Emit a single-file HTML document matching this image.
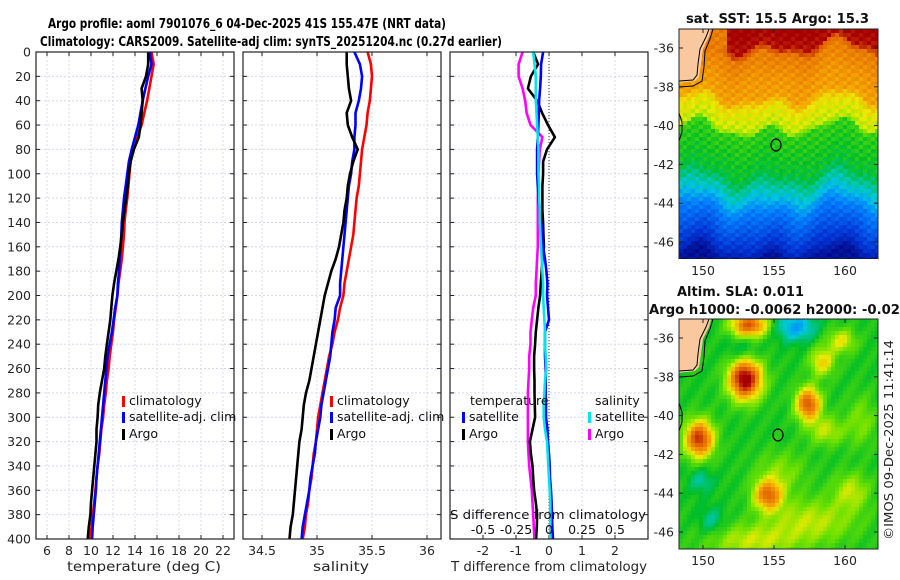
<!DOCTYPE html>
<html><head><meta charset="utf-8"><style>
html,body{margin:0;padding:0;background:#fff;width:900px;height:580px;overflow:hidden}
svg{display:block;font-family:"DejaVu Sans","Liberation Sans",sans-serif}
</style></head><body>
<svg id="fig" width="900" height="580" viewBox="0 0 900 580" xmlns="http://www.w3.org/2000/svg">
<text x="48" y="28" font-size="13.5" font-weight="bold" textLength="398" lengthAdjust="spacingAndGlyphs">Argo profile: aoml 7901076_6 04-Dec-2025 41S 155.47E (NRT data)</text>
<text x="40" y="46" font-size="13.5" font-weight="bold" textLength="462" lengthAdjust="spacingAndGlyphs">Climatology: CARS2009. Satellite-adj clim: synTS_20251204.nc (0.27d earlier)</text>
<g id="plots"></g>
<g id="maps"></g>
</svg>
<script>
const depths=[0,10,20,30,40,50,60,70,80,90,100,110,120,130,140,150,160,170,180,190,200,210,220,230,240,250,260,270,280,290,300,310,320,330,340,350,360,370,380,390,400];
const tempClim=[15.5,15.7,15.5,15.3,15.1,14.85,14.6,14.2,13.8,13.6,13.5,13.4,13.3,13.15,13.05,13.0,12.9,12.8,12.65,12.5,12.4,12.25,12.1,12.0,11.85,11.7,11.6,11.45,11.35,11.2,11.1,10.95,10.85,10.75,10.6,10.5,10.4,10.3,10.15,10.05,9.9];
const tempSat=[15.35,15.5,15.2,14.95,14.7,14.5,14.3,14.0,13.7,13.45,13.3,13.15,13.0,12.9,12.8,12.75,12.7,12.6,12.55,12.45,12.4,12.2,12.05,11.9,11.7,11.5,11.4,11.3,11.2,11.1,11.0,10.9,10.8,10.7,10.6,10.5,10.45,10.35,10.25,10.15,10.1];
const tempArgo=[15.2,15.2,15.0,14.6,14.7,14.6,14.5,14.35,13.9,13.6,13.45,13.35,13.2,13.05,12.9,12.8,12.65,12.5,12.3,12.1,11.95,11.85,11.75,11.6,11.45,11.3,11.2,11.0,10.8,10.65,10.6,10.5,10.5,10.4,10.3,10.2,10.1,10.0,9.95,9.8,9.7];
const salClim=[35.46,35.49,35.5,35.49,35.48,35.46,35.45,35.43,35.41,35.40,35.39,35.38,35.36,35.35,35.34,35.33,35.31,35.29,35.27,35.25,35.24,35.21,35.19,35.16,35.14,35.11,35.09,35.07,35.05,35.03,35.01,35.0,34.99,34.97,34.96,34.95,34.93,34.92,34.90,34.89,34.87];
const salSat=[35.34,35.39,35.41,35.40,35.38,35.35,35.35,35.34,35.34,35.32,35.31,35.29,35.28,35.27,35.26,35.25,35.24,35.23,35.22,35.21,35.21,35.17,35.16,35.14,35.13,35.12,35.10,35.08,35.06,35.04,35.03,35.01,34.99,34.98,34.96,34.94,34.93,34.91,34.89,34.87,34.86];
const salArgo=[35.27,35.27,35.28,35.29,35.31,35.27,35.28,35.32,35.37,35.33,35.30,35.28,35.27,35.25,35.24,35.22,35.20,35.17,35.13,35.10,35.07,35.05,35.03,35.01,34.99,34.97,34.95,34.93,34.90,34.88,34.87,34.86,34.84,34.83,34.82,34.81,34.80,34.79,34.78,34.76,34.75];
const tDiffArgo=[-0.48,-0.33,-0.55,-0.64,-0.36,-0.21,-0.03,0.18,-0.06,-0.18,-0.18,-0.2,-0.2,-0.2,-0.18,-0.17,-0.15,-0.2,-0.22,-0.25,-0.27,-0.32,-0.36,-0.4,-0.42,-0.45,-0.45,-0.44,-0.44,-0.43,-0.42,-0.5,-0.58,-0.55,-0.5,-0.48,-0.45,-0.4,-0.36,-0.37,-0.39];
const tDiffSat=[-0.18,-0.24,-0.25,-0.27,-0.3,-0.31,-0.32,-0.34,-0.36,-0.36,-0.36,-0.34,-0.32,-0.28,-0.24,-0.2,-0.18,-0.12,-0.08,-0.05,-0.06,-0.03,0.0,-0.12,-0.12,-0.12,-0.1,-0.1,-0.1,-0.09,-0.09,-0.05,-0.03,0.0,0.02,0.03,0.06,0.08,0.09,0.1,0.12];
const sDiffSat=[-0.12,-0.11,-0.1,-0.1,-0.1,-0.095,-0.09,-0.085,-0.08,-0.08,-0.08,-0.075,-0.075,-0.07,-0.07,-0.065,-0.06,-0.055,-0.05,-0.045,-0.045,-0.04,-0.035,-0.03,-0.03,-0.025,-0.02,-0.03,-0.035,-0.04,-0.04,-0.03,-0.015,-0.01,-0.005,0.0,0.005,0.01,0.01,0.01,0.01];
const sDiffArgo=[-0.2,-0.23,-0.23,-0.2,-0.18,-0.17,-0.14,-0.05,-0.07,-0.075,-0.08,-0.08,-0.085,-0.085,-0.085,-0.085,-0.085,-0.09,-0.095,-0.1,-0.1,-0.12,-0.13,-0.14,-0.14,-0.15,-0.15,-0.155,-0.16,-0.16,-0.16,-0.16,-0.16,-0.155,-0.15,-0.14,-0.13,-0.125,-0.12,-0.115,-0.11];
const depthTicks=[0,20,40,60,80,100,120,140,160,180,200,220,240,260,280,300,320,340,360,380,400];
const tempTicks=[6,8,10,12,14,16,18,20,22];
const salTicks=[34.5,35,35.5,36];
const tDiffTicks=[-2,-1,0,1,2];
const sDiffTicks=[-0.5,-0.25,0,0.25,0.5];
const latTicks=[-36,-38,-40,-42,-44,-46];
const lonTicks=[150,155,160];

const NS='http://www.w3.org/2000/svg';
function mk(tag,attrs,parent,txt){const e=document.createElementNS(NS,tag);for(const k in attrs)e.setAttribute(k,attrs[k]);if(txt!==undefined)e.textContent=txt;parent.appendChild(e);return e;}
const plots=document.getElementById('plots');
const Y0=52,Y1=539;
const yScale=d=>Y0+(d-0)/(400)*(Y1-Y0);
function lin(d0,d1,r0,r1){return v=>r0+(v-d0)/(d1-d0)*(r1-r0);}
const GRID='#d6d8f0';

function panel(name,x0,x1,xs,xticks,showY){
  const g=mk('g',{},plots);
  
  
  depthTicks.forEach(d=>{const y=yScale(d);
    const l=mk('line',{x1:x0,x2:x1,y1:y,y2:y,stroke:GRID,'stroke-width':1,'stroke-dasharray':'2,2'},g);
    
    mk('line',{x1:x0,x2:x0+4,y1:y,y2:y,stroke:'#222'},g);
    mk('line',{x1:x1-4,x2:x1,y1:y,y2:y,stroke:'#222'},g);
    if(showY){const t=mk('text',{x:31,y:y+4.5,'font-size':12.5,'text-anchor':'end',fill:'#262626'},g,String(d));
      }
  });
  xticks.forEach(v=>{const x=xs(v);
    const l=mk('line',{x1:x,x2:x,y1:Y0,y2:Y1,stroke:GRID,'stroke-width':1,'stroke-dasharray':'2,2'},g);
    
    mk('line',{x1:x,x2:x,y1:Y1-4,y2:Y1,stroke:'#222'},g);
    mk('line',{x1:x,x2:x,y1:Y0,y2:Y0+4,stroke:'#222'},g);
    const t=mk('text',{x:x,y:555,'font-size':12.5,'text-anchor':'middle',fill:'#262626'},g,String(v));
    
  });
  return g;
}
function series(g,name,vals,xs,color){
  const pts=vals.map((v,i)=>xs(v).toFixed(1)+','+yScale(depths[i]).toFixed(1)).join(' ');
  const p=mk('polyline',{points:pts,fill:'none',stroke:color,'stroke-width':2.6,'stroke-linejoin':'round'},g);
  
  
}
function frame(g,x0,x1){const r=mk('rect',{x:x0,y:Y0,width:x1-x0,height:Y1-Y0,fill:'none',stroke:'#222','stroke-width':1.2},g);
  }
function legendEntry(g,x,y,color,label){
  mk('rect',{x:x,y:y-9,width:3,height:11,fill:color},g);
  const t=mk('text',{x:x+7,y:y,'font-size':12.5,fill:'#111'},g,label);
  
}
function axisTitle(g,x,label,len){const t=mk('text',{x:x,y:571,'font-size':13,'text-anchor':'middle',fill:'#262626',textLength:len,lengthAdjust:'spacingAndGlyphs'},g,label);
  }

const xT=lin(5,23,36,234);
const g1=panel('temperature',36,234,xT,tempTicks,true);
series(g1,'temp-climatology-line',tempClim,xT,'#ff0000');
series(g1,'temp-satellite-line',tempSat,xT,'#0000ff');
series(g1,'temp-argo-line',tempArgo,xT,'#000000');
frame(g1,36,234);
legendEntry(g1,122,405,'#ff0000','climatology');
legendEntry(g1,122,421,'#0000ff','satellite-adj. clim');
legendEntry(g1,122,438,'#000000','Argo');
axisTitle(g1,144,'temperature (deg C)',154);

const xS=lin(34.5,36,262,427);
const g2=panel('salinity',243,441,xS,salTicks,false);
series(g2,'sal-climatology-line',salClim,xS,'#ff0000');
series(g2,'sal-satellite-line',salSat,xS,'#0000ff');
series(g2,'sal-argo-line',salArgo,xS,'#000000');
frame(g2,243,441);
legendEntry(g2,330,405,'#ff0000','climatology');
legendEntry(g2,330,421,'#0000ff','satellite-adj. clim');
legendEntry(g2,330,438,'#000000','Argo');
axisTitle(g2,341,'salinity',56);

const xD=lin(-3,3,450,648);
const xSD=lin(-0.75,0.75,450,648);
const g3=panel('difference',450,648,xD,tDiffTicks,false);
const z=mk('line',{x1:xD(0),x2:xD(0),y1:Y0,y2:Y1,stroke:'#333','stroke-width':1,'stroke-dasharray':'1,2'},g3);

series(g3,'sdiff-argo-line',sDiffArgo,xSD,'#ff00ff');
series(g3,'tdiff-argo-line',tDiffArgo,xD,'#000000');
series(g3,'tdiff-satellite-line',tDiffSat,xD,'#0000ff');
series(g3,'sdiff-satellite-line',sDiffSat,xSD,'#00e5ee');
frame(g3,450,648);
let tt=mk('text',{x:470,y:405,'font-size':12.5,fill:'#111'},g3,'temperature');

tt=mk('text',{x:595,y:405,'font-size':12.5,fill:'#111'},g3,'salinity');

legendEntry(g3,462,421,'#0000ff','satellite');
legendEntry(g3,462,438,'#000000','Argo');
legendEntry(g3,588,421,'#00e5ee','satellite');
legendEntry(g3,588,438,'#ff00ff','Argo');
tt=mk('text',{x:450,y:519,'font-size':12.5,fill:'#111',textLength:196,lengthAdjust:'spacingAndGlyphs'},g3,'S difference from climatology');

sDiffTicks.forEach(v=>{const t=mk('text',{x:xSD(v),y:534,'font-size':12.5,'text-anchor':'middle',fill:'#111'},g3,String(v));
  });
axisTitle(g3,549,'T difference from climatology',196);

// Maps
const maps=document.getElementById('maps');
const cmap=[[0,[0,0,120]],[0.15,[0,50,210]],[0.28,[0,130,255]],[0.37,[0,200,220]],[0.46,[0,190,40]],[0.55,[110,225,0]],[0.63,[235,235,0]],[0.72,[245,160,0]],[0.82,[225,100,0]],[0.92,[170,0,0]],[1,[150,0,0]]];
function col(v){v=Math.max(0,Math.min(1,v));
  for(let i=0;i<cmap.length-1;i++){const a=cmap[i],b=cmap[i+1];if(v<=b[0]){const t=(v-a[0])/(b[0]-a[0]);
    return 'rgb('+a[1].map((c,k)=>Math.round(c+t*(b[1][k]-c))).join(',')+')';}}
  return 'rgb(150,0,0)';}
function sstField(x,y){
  const w=6*Math.sin(x*0.09)+5*Math.sin(x*0.041+1.3)+3*Math.sin(x*0.17+y*0.05);
  const yy=y+w;
  const stops=[[0,0.93],[14,0.9],[22,0.78],[45,0.74],[65,0.72],[75,0.64],[95,0.6],[100,0.5],[140,0.46],[150,0.42],[165,0.36],[180,0.27],[200,0.2],[215,0.14],[228,0.05]];
  let v=stops[stops.length-1][1];
  if(yy<stops[0][0])v=stops[0][1];
  for(let i=0;i<stops.length-1;i++){if(yy>=stops[i][0]&&yy<stops[i+1][0]){const t=(yy-stops[i][0])/(stops[i+1][0]-stops[i][0]);v=stops[i][1]+t*(stops[i+1][1]-stops[i][1]);break;}}
  if(y<20&&x<45)v=Math.min(v,0.78);
  return v+0.025*Math.sin(x*0.5+y*0.7);
}
const blobs=[[64,58,0.48,16,20],[127,83,0.36,12,16],[18,118,0.4,14,18],[87,174,0.32,14,15],[68,4,0.35,18,12],[114,6,-0.16,20,14],[141,41,0.18,12,14],[61,31,-0.07,16,14],[145,110,0.12,18,14],[20,160,-0.08,12,12],[30,200,-0.08,12,14],[130,200,0.12,45,22],[70,220,0.12,45,16],[170,170,0.12,18,18],[160,20,0.15,14,12],[100,150,0.08,25,20],[180,100,0.08,15,25]];
function slaField(x,y){let v=0.48;blobs.forEach(b=>{const dx=(x-b[0])/b[3],dy=(y-b[1])/b[4];v+=b[2]*Math.exp(-(dx*dx+dy*dy));});return v+0.015*Math.sin(x*0.3+y*0.2);}
function drawMap(name,top,field,mx,my){
  const L=679,R=878,B=top+230;
  const g=mk('g',{},maps);
  
  
  const cs=4;
  for(let y=0;y<230;y+=cs)for(let x=0;x<199;x+=cs){
    mk('rect',{x:L+x,y:top+y,width:Math.min(cs,199-x)+0.3,height:Math.min(cs,230-y)+0.3,fill:col(field(x,y))},g);}
  const land=mk('path',{d:`M${L},${top} L${L+32},${top} L${L+30},${top+8} L${L+24},${top+20} L${L+22},${top+35} L${L+20},${top+48} L${L+16},${top+52} L${L},${top+54} Z`,fill:'#f9c89e'},g);
  
  mk('path',{d:`M${L+30},${top} L${L+27},${top+8} L${L+21},${top+20} L${L+19},${top+35} L${L+18},${top+46} L${L+14},${top+51} L${L},${top+52}`,fill:'none',stroke:'#000','stroke-width':1},g);
  mk('path',{d:`M${L+34},${top} L${L+31},${top+10} L${L+26},${top+22} L${L+25},${top+38} L${L+23},${top+52} L${L+14},${top+57} L${L},${top+58}`,fill:'none',stroke:'#000','stroke-width':1},g);
  mk('path',{d:`M${L},${top+84} L${L+3},${top+93} L${L+3},${top+103} L${L},${top+112}`,fill:'none',stroke:'#000','stroke-width':1},g);
  const c=mk('ellipse',{cx:mx,cy:my,rx:5,ry:6,fill:'none',stroke:'#000','stroke-width':1.2},g);
  
  mk('rect',{x:L,y:top,width:199,height:230,fill:'none',stroke:'#222','stroke-width':1},g);
  const latY=lat=>top+19+(-36-lat)/10*194;
  latTicks.forEach(lat=>{const y=latY(lat);mk('line',{x1:L,x2:L+4,y1:y,y2:y,stroke:'#222'},g);mk('line',{x1:R-4,x2:R,y1:y,y2:y,stroke:'#222'},g);
    const t=mk('text',{x:674,y:y+4.5,'font-size':12.5,'text-anchor':'end',fill:'#262626'},g,String(lat));
    });
  const lonX=lon=>703+(lon-150)*14.2;
  lonTicks.forEach(lon=>{const x=lonX(lon);mk('line',{x1:x,x2:x,y1:B-4,y2:B,stroke:'#222'},g);mk('line',{x1:x,x2:x,y1:top,y2:top+4,stroke:'#222'},g);
    const t=mk('text',{x:x,y:B+16,'font-size':12.5,'text-anchor':'middle',fill:'#262626'},g,String(lon));
    });
  return g;
}
drawMap('sst-map',29,sstField,776,145);
drawMap('sla-map',319,slaField,778,435);
mk('rect',{x:679,y:259,width:199,height:3,fill:'#fff'},maps);
let mt=mk('text',{x:686,y:23,'font-size':13,'font-weight':'bold',fill:'#111',textLength:183,lengthAdjust:'spacingAndGlyphs'},maps,'sat. SST: 15.5 Argo: 15.3');

mt=mk('text',{x:677,y:296,'font-size':13,'font-weight':'bold',fill:'#111',textLength:127,lengthAdjust:'spacingAndGlyphs'},maps,'Altim. SLA: 0.011');

mt=mk('text',{x:649,y:314,'font-size':13,'font-weight':'bold',fill:'#111',textLength:251,lengthAdjust:'spacingAndGlyphs'},maps,'Argo h1000: -0.0062 h2000: -0.02');

mt=mk('text',{x:0,y:0,'font-size':12.5,fill:'#262626',transform:'translate(893,540) rotate(-90)',textLength:200,lengthAdjust:'spacingAndGlyphs'},maps,'©IMOS 09-Dec-2025 11:41:14');

</script>
</body></html>
